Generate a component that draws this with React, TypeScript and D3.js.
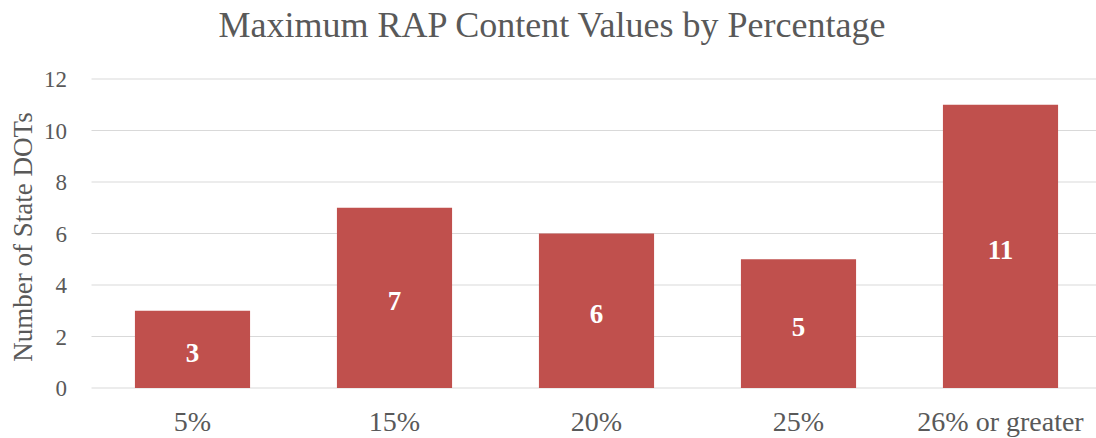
import React from "react";
import * as d3 from "d3";

const categories = ["5%", "15%", "20%", "25%", "26% or greater"];
const values = [3, 7, 6, 5, 11];
const yTicks = [0, 2, 4, 6, 8, 10, 12];

const W = 1096;
const H = 438;
const FONT = "'Liberation Serif', 'Times New Roman', serif";

export default function App() {
  const left = 91.5;
  const right = 1101.5;
  const top = 79;
  const bottom = 388;

  const x = d3.scaleBand<string>().domain(categories).range([left, right]).paddingInner(0.43).paddingOuter(0.215);
  const y = d3.scaleLinear().domain([0, 12]).range([bottom, top]);

  return (
    <svg width={W} height={H} style={{ position: "absolute", left: 0, top: 0, background: "#fff" }}>
      <rect x={0} y={0} width={W} height={H} fill="#fff" />
      <text x={552} y={37} textAnchor="middle" fontFamily={FONT} fontSize={36} fill="#595959">
        Maximum RAP Content Values by Percentage
      </text>
      {yTicks.map((t) => (
        <g key={t}>
          <line x1={left} x2={W} y1={y(t)} y2={y(t)} stroke="#d9d9d9" strokeWidth={1} />
          <text x={67} y={y(t)} dy="0.35em" textAnchor="end" fontFamily={FONT} fontSize={23} fill="#595959">
            {t}
          </text>
        </g>
      ))}
      <text
        transform={`translate(23, 237) rotate(-90)`}
        textAnchor="middle"
        dy="0.35em"
        fontFamily={FONT}
        fontSize={27}
        fill="#595959"
      >
        Number of State DOTs
      </text>
      {categories.map((c, i) => {
        const bx = x(c)!;
        const bw = x.bandwidth();
        const by = y(values[i]);
        return (
          <g key={c}>
            <rect x={bx} y={by} width={bw} height={bottom - by} fill="#C0504D" />
            <text
              x={bx + bw / 2}
              y={(by + bottom) / 2}
              dy="0.45em"
              textAnchor="middle"
              fontFamily={FONT}
              fontWeight="bold"
              fontSize={27}
              fill="#fff"
            >
              {values[i]}
            </text>
            <text x={bx + bw / 2} y={431} textAnchor="middle" fontFamily={FONT} fontSize={28} fill="#595959">
              {c}
            </text>
          </g>
        );
      })}
    </svg>
  );
}
